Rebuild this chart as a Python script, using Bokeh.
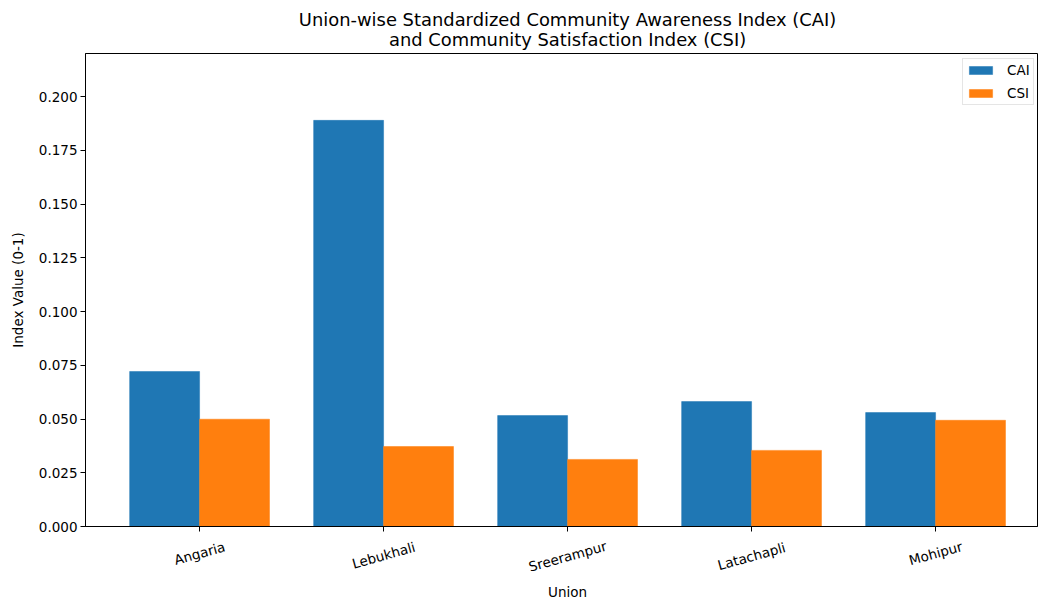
from bokeh.plotting import figure
from bokeh.layouts import column
from bokeh.models import Range1d, FixedTicker, NumeralTickFormatter, Legend, LegendItem
from bokeh.core.properties import value
from bokeh.embed import file_html
from bokeh.resources import INLINE
import math

unions = ["Angaria", "Lebukhali", "Sreerampur", "Latachapli", "Mohipur"]
cai = [0.0721, 0.1889, 0.0516, 0.0581, 0.0530]
csi = [0.0499, 0.0372, 0.0312, 0.0354, 0.0494]
y_ticks = [0.0, 0.025, 0.05, 0.075, 0.1, 0.125, 0.15, 0.175, 0.2]
title_lines = ["Union-wise Standardized Community Awareness Index (CAI)",
               "and Community Satisfaction Index (CSI)"]
x_label = "Union"
y_label = "Index Value (0-1)"

FONT = "DejaVu Sans"
FS = 13.5
TFS = 17.9
bw = 0.38
idx = list(range(len(unions)))
Y0, Y1 = 0.0, 0.22
W = 1038
H0 = 52                      # title strip
TOP, FRAME_H, BOT = 1, 473, 12
H1 = TOP + FRAME_H + BOT     # main plot
H2 = 598 - H0 - H1           # tick-label strip
xr = Range1d(-0.62, 4.554)
xmid = (idx[0] + idx[-1]) / 2

def strip(h):
    f = figure(width=W, height=h, output_backend="svg", toolbar_location=None,
               x_range=xr, y_range=Range1d(-h, 0),
               min_border_left=85, min_border_right=1, min_border_top=0, min_border_bottom=0)
    f.axis.visible = False
    f.grid.visible = False
    f.outline_line_color = None
    return f

# title strip (two centred lines)
p0 = strip(H0)
p0.text(x=[xmid, xmid], y=[-19, -39], text=title_lines, text_align="center",
        text_baseline="middle", text_font=value(FONT), text_font_size=value(f"{TFS}px"),
        text_color="black")

p = figure(width=W, height=H1, output_backend="svg", toolbar_location=None,
           x_range=xr, y_range=Range1d(Y0, Y1),
           min_border_left=85, min_border_right=1, min_border_top=TOP, min_border_bottom=BOT)

r1 = p.vbar(x=[i - bw / 2 for i in idx], top=cai, width=bw, bottom=0,
            fill_color="#1f77b4", line_color="#1f77b4", line_width=0.5)
r2 = p.vbar(x=[i + bw / 2 for i in idx], top=csi, width=bw, bottom=0,
            fill_color="#ff7f0e", line_color="#ff7f0e", line_width=0.5)

p.xgrid.visible = False
p.ygrid.visible = False
p.outline_line_color = "black"
p.outline_line_width = 1
p.outline_line_alpha = 1

xa = p.xaxis[0]
xa.ticker = FixedTicker(ticks=idx)
xa.major_label_overrides = {i: "" for i in idx}
ya = p.yaxis[0]
ya.ticker = FixedTicker(ticks=y_ticks)
ya.formatter = NumeralTickFormatter(format="0.000")
ya.axis_label = y_label

for ax in (xa, ya):
    ax.major_label_text_font = FONT
    ax.major_label_text_font_size = f"{FS}px"
    ax.major_label_text_color = "black"
    ax.axis_label_text_font = FONT
    ax.axis_label_text_font_size = f"{FS}px"
    ax.axis_label_text_font_style = "normal"
    ax.axis_label_text_color = "black"
    ax.major_tick_in = 0
    ax.major_tick_out = 5
    ax.minor_tick_line_color = None
    ax.axis_line_color = "black"
    ax.major_tick_line_color = "black"
    ax.major_label_standoff = 3
xa.major_label_text_font_size = "1px"
xa.major_label_standoff = 0
ya.axis_label_standoff = 10

legend = Legend(items=[LegendItem(label="CAI", renderers=[r1]),
                       LegendItem(label="CSI", renderers=[r2])],
                location=(877, 421))
legend.label_text_font = FONT
legend.label_text_font_size = f"{FS}px"
legend.label_text_color = "black"
legend.glyph_width = 29
legend.glyph_height = 10
legend.label_standoff = 12
legend.label_height = 16
legend.spacing = 7
legend.padding = 3
legend.margin = 0
legend.border_line_color = "#cccccc"
legend.background_fill_alpha = 0.8
p.add_layout(legend)

# strip below the frame holding matplotlib-style rotated, centred tick labels
p2 = strip(H2)
top2 = H0 + H1
ang = math.radians(15.5)
lab_y = []
for name in unions:
    L = len(name) * 0.56 * FS
    bh = L * math.sin(ang) + FS * 1.17 * math.cos(ang)
    lab_y.append(-((526 + 12 + bh / 2) - top2))
p2.text(x=idx, y=lab_y, text=unions, angle=ang, text_align="center", text_baseline="middle",
        text_font=value(FONT), text_font_size=value(f"{FS}px"), text_color="black")
p2.text(x=[xmid], y=[-(591 - top2)], text=[x_label], text_align="center",
        text_baseline="middle", text_font=value(FONT), text_font_size=value(f"{FS}px"),
        text_color="black")

layout = column(p0, p, p2, spacing=0)
open("out.html", "w").write(file_html(layout, INLINE))
